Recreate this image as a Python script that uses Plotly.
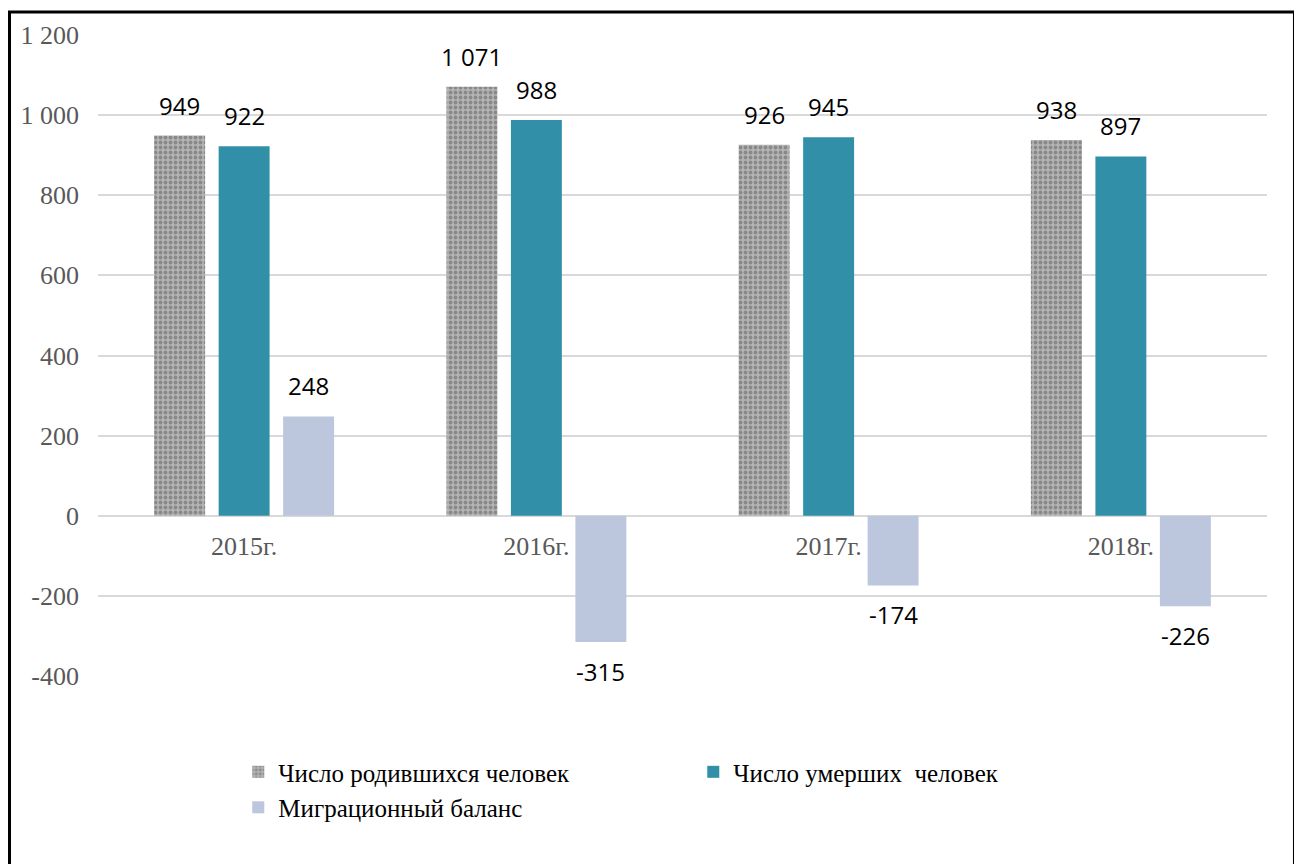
import plotly.graph_objects as go

# Data
years = ['2015г.', '2016г.', '2017г.', '2018г.']
births = [949, 1071, 926, 938]
deaths = [922, 988, 945, 897]
migration = [248, -315, -174, -226]

series_names = ['Число родившихся человек', 'Число умерших\u00a0 человек', 'Миграционный баланс']

y_ticks = [-400, -200, 0, 200, 400, 600, 800, 1000, 1200]
y_tick_text = ['-400', '-200', '0', '200', '400', '600', '800', '1 000', '1 200']


def fmt(v):
    # space as thousands separator, like the source
    return f'{v:,}'.replace(',', ' ')


fig = go.Figure()

fig.add_trace(go.Bar(
    x=years, y=births, name=series_names[0],
    marker=dict(
        color='#a9a9a9',
        pattern=dict(shape='.', bgcolor='#b4b4b4', fgcolor='#5e5e5e', size=5, solidity=0.45),
        line=dict(width=0),
    ),
))
fig.add_trace(go.Bar(
    x=years, y=deaths, name=series_names[1],
    marker=dict(color='#3190a8', line=dict(width=0)),
))
fig.add_trace(go.Bar(
    x=years, y=migration, name=series_names[2],
    marker=dict(color='#bcc6dc', line=dict(width=0)),
))

# value labels above / below each bar
slot = 64.5  # pixel distance between bar centres inside a group
annotations = []
for i, vals in enumerate([births, deaths, migration]):
    for yr, v in zip(years, vals):
        annotations.append(dict(
            x=yr, y=v, xref='x', yref='y',
            text=fmt(v), showarrow=False,
            xshift=(i - 1) * slot,
            yanchor='bottom' if v >= 0 else 'top',
            yshift=12 if v >= 0 else -11,
            font=dict(family='Open Sans', size=24, color='#000000'),
        ))

# page body adds 8px offset, so margins are trimmed by that
fig.update_layout(
    width=1302, height=864,
    paper_bgcolor='white', plot_bgcolor='white',
    margin=dict(l=90, r=43, t=27, b=196, autoexpand=False),
    barmode='group', bargap=0.338, bargroupgap=0.21,
    showlegend=True,
    legend=dict(
        orientation='h', x=0.12, y=-0.114, xanchor='left', yanchor='top',
        entrywidth=410, tracegroupgap=0, itemclick=False,
        font=dict(family='Liberation Serif', size=25, color='#000000'),
    ),
    annotations=annotations,
    # black frame round the whole chart
    shapes=[dict(
        type='rect', xref='paper', yref='paper',
        x0=-0.0757, x1=1.0235, y0=-0.31, y1=1.036,
        line=dict(color='black', width=3), fillcolor='rgba(0,0,0,0)', layer='above',
    )],
)

fig.update_xaxes(
    anchor='free', position=0.25,
    showgrid=False, showline=False, ticks='',
    ticklabelstandoff=12,
    tickfont=dict(family='Liberation Serif', size=26, color='#595959'),
)
fig.update_yaxes(
    range=[-400, 1200],
    tickvals=y_ticks, ticktext=y_tick_text,
    showgrid=True, gridcolor='#d9d9d9', gridwidth=1.5,
    zeroline=True, zerolinecolor='#d9d9d9', zerolinewidth=1.5,
    showline=False, ticks='', ticklabelstandoff=18,
    tickfont=dict(family='Liberation Serif', size=26, color='#595959'),
)

fig.write_html('out.html')
